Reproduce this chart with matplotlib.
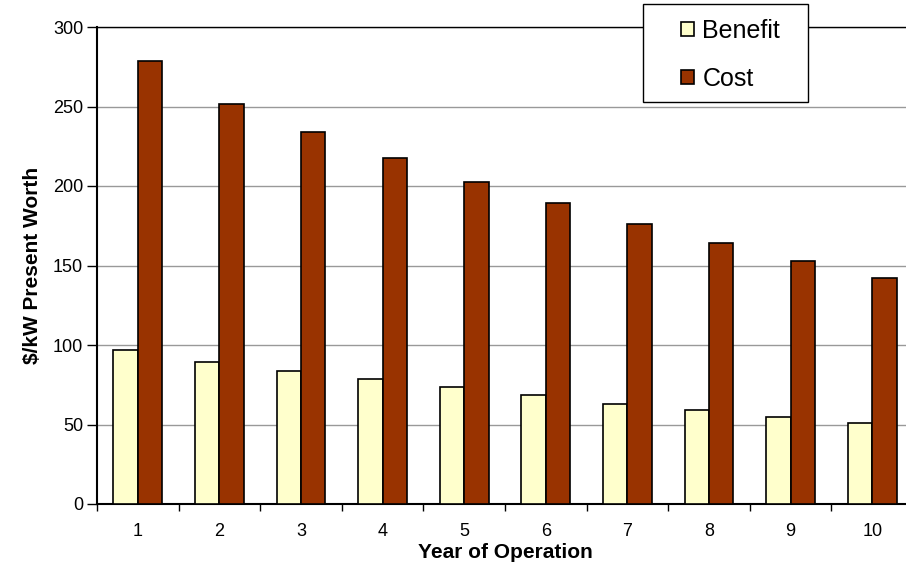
import matplotlib
matplotlib.use("Agg")
import matplotlib.pyplot as plt
from matplotlib.patches import Rectangle
import numpy as np

years = ["1", "2", "3", "4", "5", "6", "7", "8", "9", "10"]
benefit = [96.9, 89.5, 83.6, 78.6, 73.4, 68.4, 63.1, 59.1, 54.9, 51.1]
cost = [278.8, 251.4, 234.2, 217.7, 202.5, 189.3, 176.1, 164.0, 152.6, 142.3]
yticks = [0, 50, 100, 150, 200, 250, 300]

plt.rcParams['font.family'] = ['Liberation Sans', 'DejaVu Sans']

W, H = 906, 565
fig = plt.figure(figsize=(W / 100, H / 100), dpi=100)
ax = fig.add_axes([97 / W, (H - 504) / H, 816 / W, 477 / H])

x = np.arange(len(years))
bw = 0.30
ax.bar(x - bw / 2, benefit, bw, color="#FFFFCC", edgecolor="black", linewidth=1.2, label="Benefit", zorder=3)
ax.bar(x + bw / 2, cost, bw, color="#993300", edgecolor="black", linewidth=1.2, label="Cost", zorder=3)

ax.set_xlim(-0.5, len(years) - 0.5)
ax.set_ylim(0, 300)
ax.set_yticks(yticks)
ax.set_yticklabels([str(v) for v in yticks], fontsize=13)
ax.yaxis.grid(True, color="#999999", linewidth=1, zorder=0)

ax.set_xticks(x)
ax.set_xticklabels(years, fontsize=13)
ax.set_xticks(np.arange(-0.5, len(years), 1), minor=True)
ax.tick_params(axis="x", which="major", length=0, pad=14)
ax.tick_params(axis="x", which="minor", length=5, width=1, direction="out")
ax.tick_params(axis="y", length=7, width=1, direction="out", pad=3)

for s in ["left", "bottom"]:
    ax.spines[s].set_linewidth(1.5)
    ax.spines[s].set_color("black")
ax.spines["top"].set_color("black")
ax.spines["top"].set_linewidth(1.0)
ax.spines["right"].set_visible(False)

ax.set_xlabel("Year of Operation", fontsize=15, fontweight="bold", labelpad=2)
ax.set_ylabel("\\$/kW Present Worth", fontsize=15, fontweight="bold", labelpad=8)

# legend frame
frame = Rectangle((643 / W, 1 - 102 / H), (808 - 643) / W, (102 - 4) / H,
                  transform=fig.transFigure, facecolor="white", edgecolor="black",
                  linewidth=1.0, zorder=9)
fig.add_artist(frame)
leg = fig.legend(loc="upper left", bbox_to_anchor=(681 / W, 1 - 19 / H), fontsize=18,
                 frameon=False, handlelength=0.5, handleheight=0.5, handletextpad=0.35,
                 labelspacing=0.95, borderpad=0, borderaxespad=0)
leg.set_zorder(10)

fig.savefig("out.png", dpi=100)
